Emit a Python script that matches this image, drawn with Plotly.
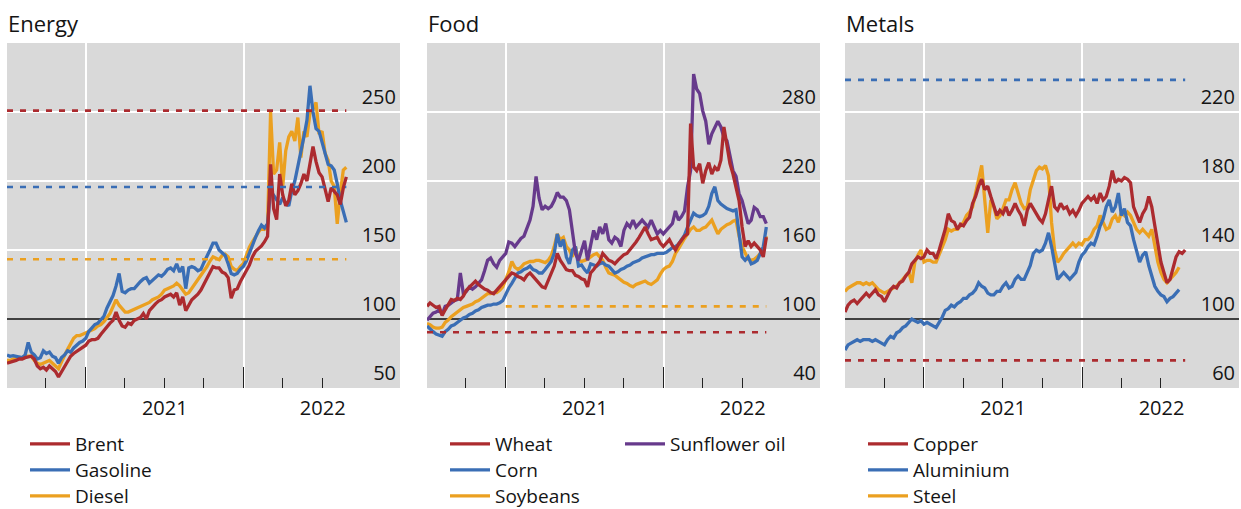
import pandas as pd
import plotly.graph_objects as go

W, H = 1241, 509
START = "2020-07-03"
X_RANGE = ["2020-07-03", "2022-12-28"]
QUARTER_TICKS = ["2020-10-01", "2021-04-01", "2021-07-01", "2021-10-01", "2022-04-01", "2022-07-01"]

RED, BLUE, ORANGE, PURPLE = "#AC2B2F", "#3A6EB5", "#EBA020", "#673A8C"

# ---------------- Energy (weekly index values) ----------------
brent = [68, 68.5, 69, 70, 71, 71, 72, 72.5, 73, 71,
         66, 64, 65, 63, 66, 64, 62, 58, 62, 66,
         70, 73, 75, 76.5, 78, 79, 81, 84, 85, 85,
         86, 89, 92, 95, 97, 99, 105, 99, 95, 94,
         97, 96, 99, 100, 101, 104, 100, 106, 109, 111,
         113, 114, 116, 117, 118, 116, 119, 110, 116, 106,
         110, 114, 116, 118, 121, 125, 130, 134, 138, 137,
         137, 134, 133, 130, 115, 121, 122, 127, 131, 135,
         139, 145, 149, 151, 153, 156, 160, 212, 180, 172,
         205, 190, 182, 186, 198, 190, 193, 198, 205, 200,
         212, 225, 214, 206, 203, 195, 185, 195, 192, 190,
         183, 195, 203]
gasoline = [74, 73, 73.5, 73, 73, 72, 74, 83, 76, 74,
            71, 72, 77, 75, 76, 73, 72, 68, 72, 74,
            77, 76, 79, 81, 83, 84, 86, 91, 94, 96,
            97, 100, 102, 108, 113, 117, 124, 133, 120, 119,
            121, 122, 122, 125, 127, 129, 130, 126, 128, 130,
            132, 131, 133, 136, 137, 135, 140, 134, 138, 122,
            137, 138, 137, 135, 136, 141, 145, 150, 155, 155,
            150, 148, 146, 140, 133, 132, 133, 136, 138, 142,
            148, 153, 159, 164, 168, 166, 169, 193, 190, 186,
            183, 188, 184, 182, 193, 200, 210, 220, 232, 244,
            269, 250, 238, 236, 228, 220, 212, 211, 208, 198,
            186, 178, 170]
diesel = [70, 70, 71, 72, 72, 72, 73, 73, 73, 70,
          68, 67, 68, 69, 70, 68, 66, 64, 69, 74,
          78, 82, 86, 88, 88, 89, 90, 91, 92, 93,
          95, 96, 98, 101, 104, 109, 114, 110, 107, 105,
          105, 106, 107, 108, 109, 110, 111, 112, 114, 115,
          116, 118, 121, 122, 123, 124, 126, 124, 121, 118,
          119, 122, 126, 128, 131, 134, 138, 142, 145, 144,
          143, 146, 147, 145, 138, 136, 135, 138, 140, 146,
          152, 156, 160, 163, 166, 165, 167, 250, 205, 208,
          228, 196, 222, 232, 236, 229, 246, 217, 236, 232,
          249, 252, 257, 234, 236, 220, 215, 200, 196, 169,
          191, 208, 210]
energy_ref = {"Brent": 251, "Gasoline": 195.7, "Diesel": 143.3}

# ---------------- Food ----------------
wheat = [111, 114, 112, 110, 111, 103, 108, 112, 117, 116,
         118, 117, 120, 125, 128, 130, 133, 130, 128, 126,
         125, 123, 122, 125, 128, 131, 134, 137, 140, 139,
         137, 136, 134, 138, 140, 137, 134, 132, 128, 127,
         134, 140, 146, 157, 151, 147, 143, 142, 142, 138,
         137, 135, 134, 128, 140, 143, 146, 150, 157, 154,
         151, 150, 148, 151, 154, 156, 157, 160, 163, 167,
         171, 176, 180, 174, 169, 170, 171, 166, 163, 166,
         169, 164, 160, 165, 169, 172, 174, 270, 232, 229,
         235, 218, 229, 236, 226, 232, 229, 238, 267, 252,
         235, 226, 215, 203, 180, 163, 168, 163, 166, 163,
         160, 154, 171]
corn = [94, 91, 89, 87, 86, 85, 89, 91, 94, 95,
        97, 99, 101, 102, 104, 105, 107, 108, 110, 111,
        112, 112, 113, 113, 114, 116, 122, 127, 131, 136,
        140, 141, 143, 144, 146, 143, 142, 140, 140, 143,
        146, 150, 157, 174, 163, 169, 154, 148, 160, 163,
        146, 147, 143, 140, 148, 147, 146, 148, 149, 147,
        146, 143, 140, 141, 143, 144, 146, 147, 149, 150,
        151, 153, 154, 155, 156, 156, 157, 157, 157, 158,
        160, 162, 163, 165, 169, 173, 180, 186, 192, 190,
        189, 190, 192, 198, 209, 215, 203, 200, 198, 196,
        195, 194, 195, 174, 154, 151, 154, 148, 149, 151,
        157, 163, 180]
soybeans = [96, 95, 93, 92, 92, 93, 97, 99, 102, 104,
            106, 108, 110, 111, 112, 113, 115, 116, 118, 120,
            122, 122, 123, 123, 125, 128, 134, 141, 150, 145,
            143, 145, 148, 149, 150, 150, 151, 151, 150, 149,
            151, 155, 163, 174, 169, 171, 163, 160, 154, 163,
            151, 150, 151, 152, 154, 156, 157, 154, 151, 145,
            140, 139, 138, 136, 134, 132, 131, 129, 128, 130,
            131, 132, 133, 131, 130, 132, 134, 139, 143, 145,
            146, 150, 157, 161, 166, 170, 174, 178, 180, 177,
            177, 179, 180, 183, 186, 180, 174, 178, 180, 182,
            183, 185, 186, 172, 163, 157, 152, 151, 152, 154,
            157, 160, 172]
sunflower = [99, 102, 105, 106, 108, 104, 111, 112, 114, 116,
             117, 140, 122, 124, 128, 126, 128, 131, 134, 142,
             151, 153, 148, 145, 151, 154, 157, 167, 166, 163,
             167, 170, 172, 180, 186, 198, 224, 205, 195, 198,
             196, 198, 203, 210, 206, 206, 203, 195, 178, 157,
             151, 160, 168, 151, 163, 177, 169, 180, 174, 183,
             169, 166, 171, 169, 163, 177, 183, 180, 186, 180,
             183, 186, 183, 180, 186, 180, 174, 177, 174, 177,
             180, 183, 194, 186, 189, 194, 215, 229, 313, 300,
             296, 281, 272, 252, 261, 267, 272, 267, 258, 255,
             241, 229, 224, 209, 203, 192, 183, 186, 197, 195,
             189, 189, 183]
food_ref_wheat = 88.5
food_ref_soy = 111
food_ref_soy_start = "2021-01-01"

# ---------------- Metals ----------------
copper = [104, 108, 110, 111, 109, 111, 113, 115, 113, 115,
          117, 114, 113, 110, 114, 117, 119, 118, 121, 122,
          125, 127, 132, 134, 136, 135, 136, 140, 138, 138,
          135, 140, 146, 152, 161, 157, 156, 152, 155, 154,
          157, 159, 167, 171, 177, 181, 175, 177, 171, 165,
          160, 163, 161, 165, 160, 163, 167, 163, 160, 154,
          163, 167, 164, 161, 158, 156, 161, 169, 177, 165,
          163, 167, 164, 165, 161, 163, 160, 163, 167, 169,
          171, 169, 171, 167, 173, 169, 171, 177, 186, 179,
          181, 180, 182, 181, 179, 165, 160, 156, 161, 164,
          171, 165, 154, 142, 133, 127, 121, 123, 129, 136,
          139, 138, 140]
aluminium = [82, 85, 86, 87, 88, 87, 88, 88, 88, 87,
             88, 87, 86, 85, 88, 90, 89, 92, 93, 95,
             96, 98, 100, 99, 98, 99, 97, 98, 97, 96,
             95, 98, 101, 105, 106, 108, 107, 109, 110, 112,
             112, 114, 115, 117, 121, 119, 118, 115, 114, 114,
             116, 116, 119, 121, 118, 119, 123, 125, 123, 123,
             127, 131, 138, 140, 139, 140, 144, 150, 142, 133,
             123, 125, 127, 125, 123, 125, 127, 133, 137, 139,
             142, 144, 143, 148, 154, 158, 165, 169, 162, 165,
             173, 160, 164, 156, 154, 146, 140, 133, 137, 139,
             131, 125, 119, 116, 114, 113, 110, 112, 113, 115,
             117]
steel = [116, 118, 119, 120, 121, 121, 120, 121, 120, 121,
         119, 117, 116, 115, 116, 117, 118, 119, 121, 123,
         125, 127, 121, 133, 137, 140, 133, 134, 134, 133,
         133, 137, 142, 146, 152, 151, 152, 152, 154, 156,
         160, 162, 165, 173, 179, 189, 169, 150, 169, 165,
         158, 160, 164, 169, 169, 175, 179, 173, 167, 164,
         165, 175, 181, 186, 188, 187, 189, 183, 156, 140,
         133, 135, 138, 140, 142, 144, 142, 144, 143, 146,
         146, 148, 152, 154, 160, 156, 152, 153, 158, 160,
         156, 162, 160, 162, 160, 156, 152, 150, 152, 150,
         148, 152, 142, 133, 127, 123, 121, 123, 125, 127,
         130]
metals_ref_copper = 76
metals_ref_aluminium = 238.6

Y_RANGES = {"energy": [50, 300], "food": [40, 340], "metals": [60, 260]}
Y_TICKS = {"energy": [50, 100, 150, 200, 250],
           "food": [40, 100, 160, 220, 280],
           "metals": [60, 100, 140, 180, 220]}
BASELINE = 100


def dates(n):
    return pd.date_range(START, periods=n, freq="7D")


fig = go.Figure()

# black 100 line under the data in every panel
for sfx in ["", "2", "3"]:
    fig.add_trace(go.Scatter(x=X_RANGE, y=[BASELINE, BASELINE], mode="lines", showlegend=False,
                             line=dict(color="black", width=1.5), xaxis="x" + sfx, yaxis="y" + sfx,
                             hoverinfo="skip"))


def line(vals, name, color, xa, ya, legend):
    fig.add_trace(go.Scatter(x=dates(len(vals)), y=vals, name=name, mode="lines",
                             line=dict(color=color, width=3.3), xaxis=xa, yaxis=ya,
                             legend=legend, hoverinfo="skip"))


def ref(x0, x1, yv, color, xa, ya):
    fig.add_trace(go.Scatter(x=[x0, x1], y=[yv, yv], mode="lines", showlegend=False,
                             line=dict(color=color, width=2.6, dash="6px,7px"),
                             xaxis=xa, yaxis=ya, hoverinfo="skip"))


# Energy
line(diesel, "Diesel", ORANGE, "x", "y", "legend3")
line(gasoline, "Gasoline", BLUE, "x", "y", "legend2")
line(brent, "Brent", RED, "x", "y", "legend")
d_e = dates(len(brent))
ref(d_e[0], d_e[-1], energy_ref["Brent"], RED, "x", "y")
ref(d_e[0], d_e[-1], energy_ref["Gasoline"], BLUE, "x", "y")
ref(d_e[0], d_e[-1], energy_ref["Diesel"], ORANGE, "x", "y")

# Food
line(soybeans, "Soybeans", ORANGE, "x2", "y2", "legend6")
line(corn, "Corn", BLUE, "x2", "y2", "legend5")
line(sunflower, "Sunflower oil", PURPLE, "x2", "y2", "legend7")
line(wheat, "Wheat", RED, "x2", "y2", "legend4")
d_f = dates(len(wheat))
ref(d_f[0], d_f[-1], food_ref_wheat, RED, "x2", "y2")
ref(food_ref_soy_start, d_f[-1], food_ref_soy, ORANGE, "x2", "y2")

# Metals
line(steel, "Steel", ORANGE, "x3", "y3", "legend10")
line(aluminium, "Aluminium", BLUE, "x3", "y3", "legend9")
line(copper, "Copper", RED, "x3", "y3", "legend8")
d_m = dates(len(copper))
ref(d_m[0], d_m[-1], metals_ref_aluminium, BLUE, "x3", "y3")
ref(d_m[0], d_m[-1], metals_ref_copper, RED, "x3", "y3")

TXT = "#141414"
FONT = "Open Sans"
x_domains = [[7 / W, 400 / W], [427 / W, 820 / W], [845 / W, 1239 / W]]
y_domain = [1 - 388 / H, 1 - 43 / H]

layout = dict(width=W, height=H, margin=dict(l=0, r=0, t=0, b=0, autoexpand=False),
              paper_bgcolor="white", plot_bgcolor="#D9D9D9",
              font=dict(family=FONT, size=20, color=TXT), showlegend=True)

keys = ["energy", "food", "metals"]
for i, key in enumerate(keys):
    sfx = "" if i == 0 else str(i + 1)
    layout["xaxis" + sfx] = dict(
        type="date", domain=x_domains[i], range=X_RANGE, anchor="y" + sfx,
        tick0="2021-01-01", dtick="M12", ticklabelmode="period", tickformat="%Y",
        ticks="inside", ticklen=21, tickwidth=1.3, tickcolor="#222", ticklabelstandoff=6,
        showgrid=True, gridcolor="white", gridwidth=1.5, zeroline=False, showline=False,
        minor=dict(tickmode="array", tickvals=QUARTER_TICKS, ticks="inside", ticklen=10,
                   tickwidth=1.3, tickcolor="#222", showgrid=False),
        tickfont=dict(size=20, color=TXT), fixedrange=True)
    layout["yaxis" + sfx] = dict(
        domain=y_domain, range=Y_RANGES[key], tickvals=Y_TICKS[key], anchor="x" + sfx,
        side="right", ticklabelposition="inside top", ticks="", ticklabelstandoff=1,
        ticklabelshift=-1, ticklabeloverflow="allow",
        showgrid=True, gridcolor="white", gridwidth=1.5, zeroline=False, showline=False,
        tickfont=dict(size=20, color=TXT), fixedrange=True)

# one legend per entry so rows sit exactly where the reference has them
leg_common = dict(xref="container", yref="container", xanchor="left", yanchor="middle",
                  bgcolor="rgba(0,0,0,0)", font=dict(size=19, color=TXT, family=FONT),
                  itemwidth=40, orientation="v")
ROWS = [444, 470, 496]
legend_pos = {"legend": (25, ROWS[0]), "legend2": (25, ROWS[1]), "legend3": (25, ROWS[2]),
              "legend4": (445, ROWS[0]), "legend5": (445, ROWS[1]), "legend6": (445, ROWS[2]),
              "legend7": (620, ROWS[0]),
              "legend8": (863, ROWS[0]), "legend9": (863, ROWS[1]), "legend10": (863, ROWS[2])}
for k, (px, py) in legend_pos.items():
    layout[k] = dict(x=px / W, y=1 - py / H, **leg_common)

fig.update_layout(**layout)

# panel titles
for i, t in enumerate(["Energy", "Food", "Metals"]):
    fig.add_annotation(text=t, xref="paper", yref="paper", x=x_domains[i][0], y=1 - 23 / H,
                       xanchor="left", yanchor="middle", showarrow=False,
                       font=dict(size=22, color=TXT, family=FONT), xshift=-1)

fig.write_html("out.html", config={"displayModeBar": False},
               post_script="document.body.style.margin='0px';")
